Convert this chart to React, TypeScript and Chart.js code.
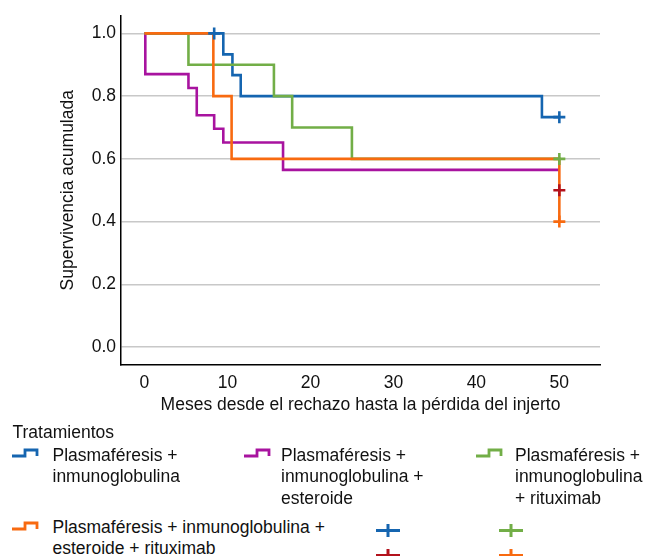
import React, { useEffect, useRef } from 'react';
import { Chart, registerables } from 'chart.js';

Chart.register(...registerables);

const FONT = "'Liberation Sans', Arial, Helvetica, sans-serif";
const TEXT = '#111111';

// Kaplan-Meier curves (time in months, cumulative survival)
const blueTimes = [0, 9.5, 10.6, 11.6, 47.9, 50];
const blueSurv = [1.0, 0.933, 0.867, 0.8, 0.733, 0.733];

const purpleTimes = [0, 0.1, 5.3, 6.3, 8.4, 9.5, 16.7, 50];
const purpleSurv = [1.0, 0.87, 0.826, 0.739, 0.696, 0.652, 0.565, 0.565];

const greenTimes = [0, 5.3, 15.6, 17.8, 25.0, 50];
const greenSurv = [1.0, 0.9, 0.8, 0.7, 0.6, 0.6];

const orangeTimes = [0, 8.3, 10.5, 50];
const orangeSurv = [1.0, 0.8, 0.6, 0.4];

// Censored observations
const censorBlueTimes = [8.4, 50];
const censorBlueSurv = [1.0, 0.733];
const censorRedTimes = [50];
const censorRedSurv = [0.5];
const censorGreenTimes = [50];
const censorGreenSurv = [0.6];
const censorOrangeTimes = [50];
const censorOrangeSurv = [0.4];

const seriesNames = [
  'Plasmaféresis + inmunoglobulina',
  'Plasmaféresis + inmunoglobulina + esteroide',
  'Plasmaféresis + inmunoglobulina + rituximab',
  'Plasmaféresis + inmunoglobulina + esteroide + rituximab',
];
const legendLines = [
  ['Plasmaféresis +', 'inmunoglobulina'],
  ['Plasmaféresis +', 'inmunoglobulina +', 'esteroide'],
  ['Plasmaféresis +', 'inmunoglobulina', '+ rituximab'],
  ['Plasmaféresis + inmunoglobulina +', 'esteroide + rituximab'],
];
const legendTitle = 'Tratamientos';
const xTitle = 'Meses desde el rechazo hasta la pérdida del injerto';
const yTitle = 'Supervivencia acumulada';
const xTicks = [0, 10, 20, 30, 40, 50];
const yTicks = [0.0, 0.2, 0.4, 0.6, 0.8, 1.0];

const BLUE = '#1565b0';
const PURPLE = '#a8139f';
const GREEN = '#72ae47';
const ORANGE = '#f86a10';
const RED = '#b3121c';

const pts = (xs: number[], ys: number[]) => xs.map((x, i) => ({ x, y: ys[i] }));

function StepIcon({ color, left, top }: { color: string; left: number; top: number }) {
  return (
    <svg width={28} height={10} style={{ position: 'absolute', left, top }}>
      <path d="M1,8 H14 V2 H26 V8" fill="none" stroke={color} strokeWidth={2.8} />
    </svg>
  );
}

function PlusIcon({ color, cx, cy }: { color: string; cx: number; cy: number }) {
  return (
    <svg width={26} height={15} style={{ position: 'absolute', left: cx - 13, top: cy - 7.5 }}>
      <path d="M1,7.5 H25 M13,1 V14" fill="none" stroke={color} strokeWidth={3} />
    </svg>
  );
}

function LegendText({ lines, left, top }: { lines: string[]; left: number; top: number }) {
  return (
    <div
      style={{
        position: 'absolute',
        left,
        top,
        fontSize: 17.5,
        lineHeight: '21.5px',
        whiteSpace: 'pre',
        color: TEXT,
      }}
    >
      {lines.join('\n')}
    </div>
  );
}

export default function App() {
  const ref = useRef<HTMLCanvasElement>(null);

  useEffect(() => {
    if (!ref.current) return;
    const lineDs = (label: string, xs: number[], ys: number[], color: string, order: number) => ({
      label,
      data: pts(xs, ys),
      borderColor: color,
      backgroundColor: color,
      borderWidth: 2.6,
      stepped: 'before' as const,
      pointRadius: 0,
      showLine: true,
      fill: false,
      order,
    });
    const censorDs = (label: string, xs: number[], ys: number[], color: string) => ({
      label,
      data: pts(xs, ys),
      borderColor: color,
      backgroundColor: color,
      borderWidth: 2.6,
      pointStyle: 'cross' as const,
      pointRadius: 6,
      showLine: false,
      order: 0,
    });

    const chart = new Chart(ref.current, {
      type: 'line',
      data: {
        datasets: [
          lineDs(seriesNames[0], blueTimes, blueSurv, BLUE, 4),
          lineDs(seriesNames[1], purpleTimes, purpleSurv, PURPLE, 3),
          lineDs(seriesNames[2], greenTimes, greenSurv, GREEN, 2),
          lineDs(seriesNames[3], orangeTimes, orangeSurv, ORANGE, 1),
          censorDs(seriesNames[0] + ' (censurado)', censorBlueTimes, censorBlueSurv, BLUE),
          censorDs(seriesNames[1] + ' (censurado)', censorRedTimes, censorRedSurv, RED),
          censorDs(seriesNames[2] + ' (censurado)', censorGreenTimes, censorGreenSurv, GREEN),
          censorDs(seriesNames[3] + ' (censurado)', censorOrangeTimes, censorOrangeSurv, ORANGE),
        ] as any,
      },
      options: {
        animation: false,
        responsive: false,
        devicePixelRatio: 1,
        font: { family: FONT, size: 17.5 } as any,
        layout: { padding: { left: 0, right: 45, top: 14, bottom: 0 } },
        plugins: {
          legend: { display: false },
          tooltip: { enabled: false },
        },
        scales: {
          x: {
            type: 'linear',
            min: -2.83,
            max: 54.9,
            afterFit: (s: any) => {
              s.height = 60;
            },
            afterBuildTicks: (s: any) => {
              s.ticks = xTicks.map((v) => ({ value: v }));
            },
            ticks: {
              font: { family: FONT, size: 17.5 },
              color: TEXT,
              padding: 7.5,
              maxRotation: 0,
              callback: (v: any) => String(v),
            },
            grid: { display: false, drawTicks: false },
            border: { display: true, color: '#000', width: 1.5 },
            title: {
              display: true,
              text: xTitle,
              color: TEXT,
              font: { family: FONT, size: 17.5 },
              padding: { top: 0, bottom: 9.5 },
            },
          },
          y: {
            type: 'linear',
            min: -0.057,
            max: 1.057,
            afterFit: (s: any) => {
              s.width = 121;
            },
            afterBuildTicks: (s: any) => {
              s.ticks = yTicks.map((v) => ({ value: v }));
            },
            ticks: {
              font: { family: FONT, size: 17.5 },
              color: TEXT,
              padding: 5,
              callback: (v: any) => Number(v).toFixed(1),
            },
            grid: { color: '#c8c8c8', lineWidth: 1.5, drawTicks: false },
            border: { display: true, color: '#000', width: 1.5 },
            title: {
              display: true,
              text: yTitle,
              color: TEXT,
              font: { family: FONT, size: 17.5 },
              padding: { top: 58, bottom: 0 },
            },
          },
        },
      } as any,
    });
    return () => chart.destroy();
  }, []);

  return (
    <div
      style={{
        position: 'fixed',
        left: 0,
        top: 0,
        width: 645,
        height: 556,
        overflow: 'hidden',
        background: '#ffffff',
        fontFamily: FONT,
      }}
    >
      <canvas
        ref={ref}
        width={645}
        height={425}
        style={{ position: 'absolute', left: 0, top: 0, width: 645, height: 425 }}
      />
      <LegendText lines={[legendTitle]} left={12.5} top={421.5} />
      <StepIcon color={BLUE} left={11} top={447.5} />
      <LegendText lines={legendLines[0]} left={52.5} top={444.7} />
      <StepIcon color={PURPLE} left={243} top={447.5} />
      <LegendText lines={legendLines[1]} left={281} top={444.7} />
      <StepIcon color={GREEN} left={475} top={447.5} />
      <LegendText lines={legendLines[2]} left={515} top={444.7} />
      <StepIcon color={ORANGE} left={11} top={520.5} />
      <LegendText lines={legendLines[3]} left={52.5} top={516.7} />
      <PlusIcon color={BLUE} cx={388} cy={530} />
      <PlusIcon color={RED} cx={388} cy={555} />
      <PlusIcon color={GREEN} cx={511} cy={530} />
      <PlusIcon color={ORANGE} cx={511} cy={555} />
    </div>
  );
}
